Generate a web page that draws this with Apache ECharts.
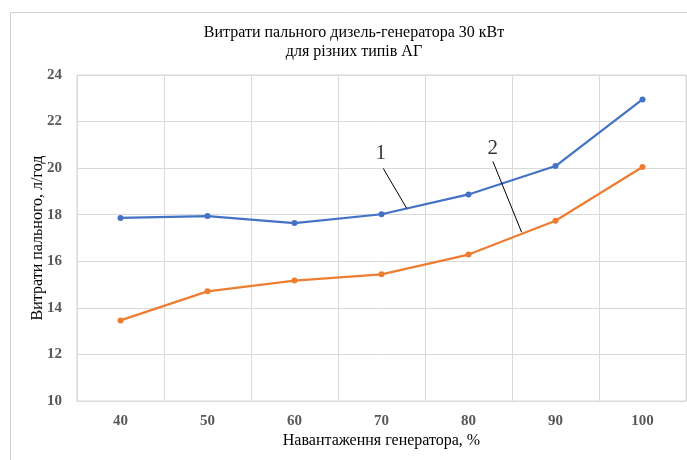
<!DOCTYPE html>
<html>
<head>
<meta charset="utf-8">
<script src="https://cdn.jsdelivr.net/npm/echarts@6/dist/echarts.min.js"></script>
<style>html,body{margin:0;padding:0;background:#fff}#c{width:687px;height:460px}</style>
</head>
<body>
<div id="c"></div>
<script>
var categories = ['40', '50', '60', '70', '80', '90', '100'];
var series1 = [17.86, 17.94, 17.64, 18.02, 18.87, 20.09, 22.95];
var series2 = [13.46, 14.71, 15.17, 15.44, 16.29, 17.74, 20.05];
var yTicks = [10, 12, 14, 16, 18, 20, 22, 24];
var titleLines = ['Витрати пального дизель-генератора 30 кВт', 'для різних типів АГ'];
var xName = 'Навантаження генератора, %';
var yName = 'Витрати пального, л/год';
// annotation leaders: label position and leader line, in (category index, value) units
var ann1 = { text: '1', label: [2.99, 20.64], line: [[3.02, 19.99], [3.29, 18.27]] };
var ann2 = { text: '2', label: [4.28, 20.86], line: [[4.28, 20.29], [4.61, 17.25]] };

var font = '"Liberation Serif", "Times New Roman", serif';
var chart = echarts.init(document.getElementById('c'), null, { renderer: 'canvas' });

function leader(a) {
  return {
    type: 'line', xAxisIndex: 1, data: a.line, symbol: 'none', silent: true,
    lineStyle: { color: '#000', width: 1 }, z: 5, animation: false
  };
}
function label(a) {
  return {
    type: 'scatter', xAxisIndex: 1, data: [a.label], symbolSize: 0, silent: true,
    label: { show: true, position: 'inside', formatter: a.text, fontFamily: font, fontSize: 21, color: '#000' },
    animation: false
  };
}

chart.setOption({
  animation: false,
  backgroundColor: '#fff',
  title: {
    text: titleLines.join('\n'), left: 349, top: 18, textAlign: 'center',
    textStyle: { fontFamily: font, fontSize: 16, fontWeight: 'normal', color: '#000', lineHeight: 19 }
  },
  graphic: [{
    type: 'rect', shape: { x: 10.5, y: 12.5, width: 700, height: 470 },
    style: { fill: 'none', stroke: '#d0d0d0', lineWidth: 1 }, silent: true, z: -1
  }],
  grid: { left: 77, right: 1, top: 75, bottom: 59, show: true, borderColor: '#d9d9d9', borderWidth: 1 },
  xAxis: [{
    type: 'category', data: categories, boundaryGap: true,
    name: xName, nameLocation: 'middle', nameGap: 32, nameMoveOverlap: false,
    nameTextStyle: { fontFamily: font, fontSize: 16, color: '#000' },
    axisLine: { lineStyle: { color: '#d9d9d9' } },
    axisTick: { show: false },
    splitLine: { show: true, lineStyle: { color: '#d9d9d9' } },
    axisLabel: { fontFamily: font, fontSize: 15, fontWeight: 'bold', color: '#595959', margin: 13, interval: 0 }
  }, {
    type: 'value', min: -0.5, max: 6.5, show: false
  }],
  yAxis: {
    type: 'value', min: yTicks[0], max: yTicks[yTicks.length - 1], interval: 2,
    name: yName, nameLocation: 'middle', nameGap: 31, nameMoveOverlap: false,
    nameTextStyle: { fontFamily: font, fontSize: 16, color: '#000' },
    axisLine: { show: false }, axisTick: { show: false },
    splitLine: { lineStyle: { color: '#d9d9d9' } },
    axisLabel: { fontFamily: font, fontSize: 15, fontWeight: 'bold', color: '#595959', margin: 15 }
  },
  series: [{
    type: 'line', data: series1, symbol: 'circle', symbolSize: 6,
    lineStyle: { color: '#4472C4', width: 2.25 }, itemStyle: { color: '#4472C4' }
  }, {
    type: 'line', data: series2, symbol: 'circle', symbolSize: 6,
    lineStyle: { color: '#ED7D31', width: 2.25 }, itemStyle: { color: '#ED7D31' }
  }, leader(ann1), leader(ann2), label(ann1), label(ann2)]
});
</script>
</body>
</html>
